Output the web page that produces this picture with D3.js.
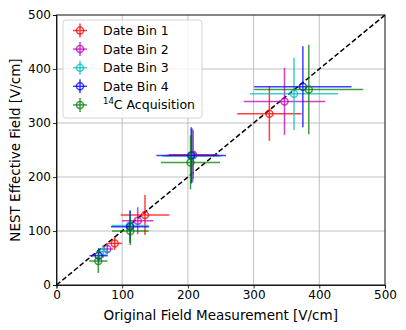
<!DOCTYPE html>
<html>
<head>
<meta charset="utf-8">
<script src="https://cdn.jsdelivr.net/npm/d3@7"></script>
<style>
  body { margin: 0; background: #fff; }
  text { font-family: "DejaVu Sans", sans-serif; fill: #000; }
</style>
</head>
<body>
<svg></svg>
<script>
// series values
const seriesNames = ["Date Bin 1", "Date Bin 2", "Date Bin 3", "Date Bin 4", "14C Acquisition"];
const seriesColors = ["#ff0000", "#bf00bf", "#00bfbf", "#0000ff", "#008000"];

const bin1X = [88.6, 134.7, 208, 324];
const bin1Y = [77, 129.6, 241, 317];
const bin1Xerr = [11, 37, 37, 49];
const bin1Yerr = [12, 37, 45, 50];

const bin2X = [77.3, 123.6, 207, 347];
const bin2Y = [66.7, 119, 240, 340];
const bin2Xerr = [9, 24, 40, 62];
const bin2Yerr = [10, 25, 50, 62];

const bin3X = [71.2, 112, 206, 361.5];
const bin3Y = [61.7, 110, 239, 354];
const bin3Xerr = [11, 28, 45, 67];
const bin3Yerr = [12, 28, 50, 67];

const bin4X = [64.2, 112, 205, 375];
const bin4Y = [54.3, 108, 240, 367];
const bin4Xerr = [14, 29, 53, 74];
const bin4Yerr = [14, 30, 52, 75];

const c14X = [63.6, 112.4, 204, 384];
const c14Y = [44.4, 100, 227, 362];
const c14Xerr = [14, 28, 45, 83];
const c14Yerr = [22, 26, 50, 83];

const tickValues = [0, 100, 200, 300, 400, 500];

const allX = [bin1X, bin2X, bin3X, bin4X, c14X];
const allY = [bin1Y, bin2Y, bin3Y, bin4Y, c14Y];
const allXerr = [bin1Xerr, bin2Xerr, bin3Xerr, bin4Xerr, c14Xerr];
const allYerr = [bin1Yerr, bin2Yerr, bin3Yerr, bin4Yerr, c14Yerr];

const width = 406, height = 330;
const margin = {left: 56.5, right: 21, top: 15, bottom: 45};

const svg = d3.select("svg").attr("width", width).attr("height", height);

const x = d3.scaleLinear().domain([0, 500]).range([margin.left, width - margin.right]);
const y = d3.scaleLinear().domain([0, 500]).range([height - margin.bottom, margin.top]);

// grid
const grid = svg.append("g");
grid.selectAll(".gx").data(tickValues).join("line")
    .attr("x1", d => x(d)).attr("x2", d => x(d))
    .attr("y1", y(0)).attr("y2", y(500))
    .attr("stroke", "#b0b0b0").attr("stroke-width", 0.8);
grid.selectAll(".gy").data(tickValues).join("line")
    .attr("class", "gy")
    .attr("x1", x(0)).attr("x2", x(500))
    .attr("y1", d => y(d)).attr("y2", d => y(d))
    .attr("stroke", "#b0b0b0").attr("stroke-width", 0.8);

// diagonal
svg.append("line")
    .attr("x1", x(0)).attr("y1", y(0))
    .attr("x2", x(500)).attr("y2", y(500))
    .attr("stroke", "#000").attr("stroke-width", 1.5)
    .attr("stroke-dasharray", "5,2.5");

// error bars
allX.forEach(function(xs, s) {
    const g = svg.append("g")
        .attr("stroke", seriesColors[s])
        .attr("stroke-opacity", 0.75)
        .attr("stroke-width", 1.5)
        .attr("fill", "none");
    xs.forEach(function(xv, i) {
        const yv = allY[s][i];
        const xe = allXerr[s][i], ye = allYerr[s][i];
        g.append("line")
            .attr("x1", x(xv - xe)).attr("x2", x(xv + xe))
            .attr("y1", y(yv)).attr("y2", y(yv));
        g.append("line")
            .attr("x1", x(xv)).attr("x2", x(xv))
            .attr("y1", y(yv - ye)).attr("y2", y(yv + ye));
        g.append("circle")
            .attr("cx", x(xv)).attr("cy", y(yv)).attr("r", 3.5);
    });
});

// axes
const xAxis = svg.append("g")
    .attr("transform", "translate(0," + y(0) + ")")
    .call(d3.axisBottom(x).tickValues(tickValues).tickSize(3.5).tickPadding(2));
const yAxis = svg.append("g")
    .attr("transform", "translate(" + x(0) + ",0)")
    .call(d3.axisLeft(y).tickValues(tickValues).tickSize(3.5).tickPadding(2));
[xAxis, yAxis].forEach(function(a) {
    a.selectAll("text").attr("font-size", 12).attr("font-family", "DejaVu Sans");
    a.selectAll("line").attr("stroke", "#000").attr("stroke-width", 0.8);
    a.select(".domain").attr("stroke", "#000").attr("stroke-width", 0.8);
});

// frame top/right
svg.append("rect")
    .attr("x", x(0)).attr("y", y(500))
    .attr("width", x(500) - x(0)).attr("height", y(0) - y(500))
    .attr("fill", "none").attr("stroke", "#000").attr("stroke-width", 0.8);

// axis labels
svg.append("text")
    .attr("x", (x(0) + x(500)) / 2).attr("y", 320)
    .attr("text-anchor", "middle").attr("font-size", 13.5)
    .text("Original Field Measurement [V/cm]");
svg.append("text")
    .attr("transform", "translate(20," + (y(0) + y(500)) / 2 + ") rotate(-90)")
    .attr("text-anchor", "middle").attr("font-size", 13.5)
    .text("NEST Effective Field [V/cm]");

// legend
const legend = svg.append("g").attr("transform", "translate(63,20)");
legend.append("rect")
    .attr("width", 139).attr("height", 98).attr("rx", 3)
    .attr("fill", "#fff").attr("fill-opacity", 0.8)
    .attr("stroke", "#cccccc").attr("stroke-width", 0.8);
seriesNames.forEach(function(name, s) {
    const ly = 10.5 + s * 18.6;
    const g = legend.append("g")
        .attr("stroke", seriesColors[s]).attr("stroke-opacity", 0.75)
        .attr("stroke-width", 1.5).attr("fill", "none");
    g.append("line").attr("x1", 10).attr("x2", 24).attr("y1", ly).attr("y2", ly);
    g.append("line").attr("x1", 17).attr("x2", 17).attr("y1", ly - 7).attr("y2", ly + 7);
    g.append("circle").attr("cx", 17).attr("cy", ly).attr("r", 3.5);
    const t = legend.append("text")
        .attr("x", 40).attr("y", ly + 4.5).attr("font-size", 12.5);
    if (name.startsWith("14C")) {
        t.append("tspan").attr("font-size", 8.5).attr("dy", -5).text("14");
        t.append("tspan").attr("dy", 5).text("C Acquisition");
    } else {
        t.text(name);
    }
});
</script>
</body>
</html>
